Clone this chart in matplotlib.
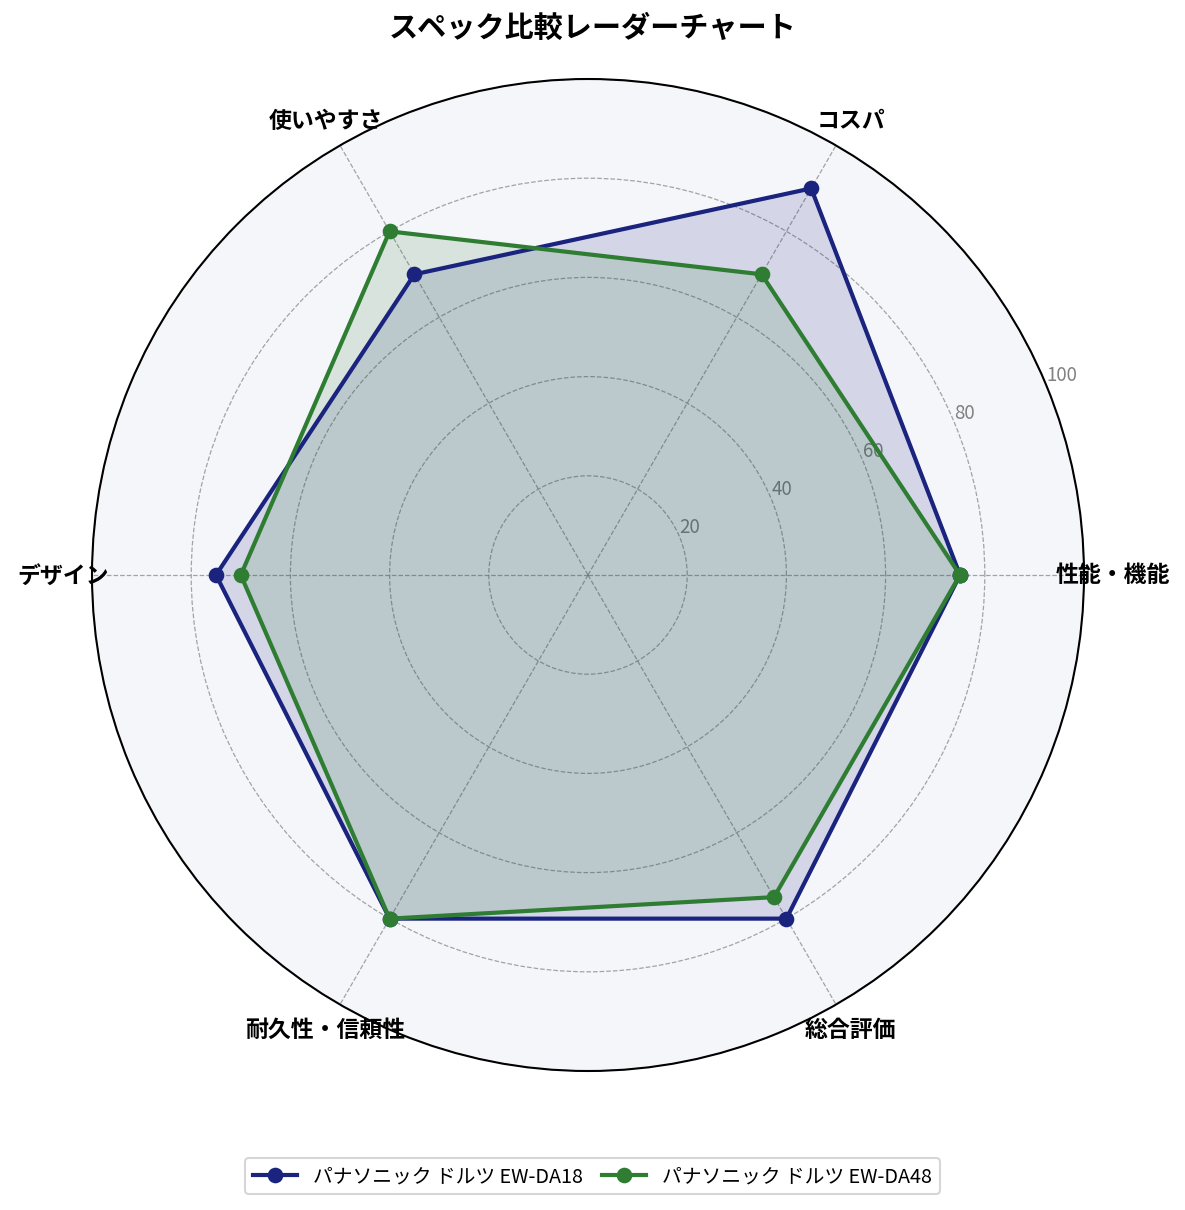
import numpy as np
import matplotlib
matplotlib.use("Agg")
import matplotlib.pyplot as plt

plt.rcParams["font.family"] = ["Noto Sans CJK JP", "DejaVu Sans"]

# ── データ ─────────────────────────────────────────────
categories = ["性能・機能", "コスパ", "使いやすさ", "デザイン", "耐久性・信頼性", "総合評価"]
series_names = ["パナソニック ドルツ EW-DA18", "パナソニック ドルツ EW-DA48"]
scores_da18 = [75, 90, 70, 75, 80, 80]
scores_da48 = [75, 70, 80, 70, 80, 75]
r_ticks = [20, 40, 60, 80, 100]
colors = ["#1a237e", "#2e7d32"]

# ── 描画 ─────────────────────────────────────────────
fig = plt.figure(figsize=(7.9, 8.0733), dpi=150)
W, H = 1185, 1211
cx, cy, R = 588, 576, 496
ax = fig.add_axes([(cx - R) / W, (H - cy - R) / H, 2 * R / W, 2 * R / H],
                  projection="polar")
ax.set_facecolor("#f5f6fa")

n = len(categories)
angles = np.linspace(0, 2 * np.pi, n, endpoint=False)
closed = np.concatenate([angles, angles[:1]])

for name, vals, color in zip(series_names, [scores_da18, scores_da48], colors):
    v = np.concatenate([vals, vals[:1]])
    ax.plot(closed, v, color=color, linewidth=2.0, marker="o", markersize=6.5,
            label=name, zorder=3)
    ax.fill(closed, v, color=color, alpha=0.15, zorder=2)

ax.set_ylim(0, 100)
ax.set_yticks(r_ticks)
ax.set_yticklabels([str(t) for t in r_ticks], fontsize=9, color="gray")
ax.set_rlabel_position(22.5)
ax.set_xticks(angles)
ax.set_xticklabels(categories, fontsize=11, fontweight="bold")
ax.tick_params(axis="x", pad=3.5)
ax.grid(True, color="gray", linestyle="--", linewidth=0.6, alpha=0.7)
ax.spines["polar"].set_linewidth(1.0)

fig.text(0.5, 1 - 28 / H, "スペック比較レーダーチャート", fontsize=14,
         fontweight="bold", ha="center", va="center")

fig.legend(loc="center", bbox_to_anchor=(0.5, 1 - 1177 / H), ncol=2,
           fontsize=9.5, frameon=True, handlelength=2.2, columnspacing=1.0)

fig.savefig("out.png", dpi=150)
